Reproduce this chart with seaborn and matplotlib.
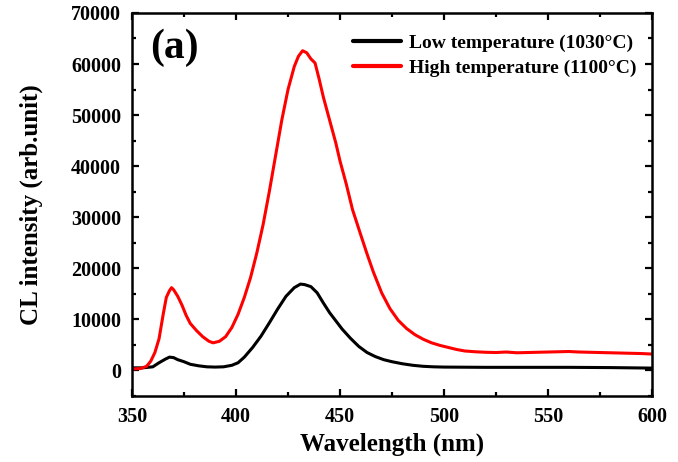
import matplotlib
matplotlib.use("Agg")
import matplotlib.pyplot as plt
import seaborn as sns
import pandas as pd
from matplotlib.ticker import MultipleLocator

# Cathodoluminescence spectra (wavelength in nm, intensity in arb. units)
wl_low = [350, 355, 360, 363, 366, 368, 370, 372, 375, 378, 382, 386, 390, 394,
          398, 401, 404, 408, 412, 416, 420, 424, 428, 431, 433, 436, 439, 442,
          445, 448, 451, 455, 459, 463, 467, 471, 475, 480, 485, 490, 495, 500,
          520, 540, 560, 580, 600]
int_low = [500, 500, 700, 1500, 2200, 2600, 2500, 2100, 1700, 1200, 900, 700, 650, 700,
           1000, 1500, 2600, 4500, 6700, 9300, 12000, 14500, 16200, 16900, 16800, 16400, 15200, 13200,
           11300, 9700, 8100, 6300, 4700, 3500, 2700, 2100, 1700, 1300, 1000, 800, 700, 650,
           600, 600, 600, 550, 450]

wl_high = [350, 354, 357, 359, 361, 363, 365, 366.5, 368, 369, 370, 372, 374, 376,
           378, 381, 384, 387, 389, 392, 395, 398, 401, 404, 407, 410, 413, 416,
           419, 422, 425, 428, 430, 432, 434, 436, 438, 440, 442, 444, 446, 448,
           450, 453, 456, 460, 463, 466, 470, 474, 478, 482, 486, 490, 494, 498,
           502, 506, 510, 515, 520, 525, 530, 535, 540, 545, 550, 555, 560, 565,
           570, 575, 580, 585, 590, 595, 600]
int_high = [300, 350, 800, 1800, 3500, 6200, 11000, 14300, 15600, 16200, 15800, 14500, 12800, 10800,
            9200, 7800, 6600, 5700, 5400, 5700, 6600, 8400, 11000, 14300, 18200, 23000, 28500, 35000,
            42000, 49000, 55000, 59500, 61500, 62600, 62200, 61000, 60200, 57000, 53500, 50500, 47500, 44500,
            41000, 36500, 31500, 26500, 22800, 19300, 15200, 12100, 9800, 8200, 7000, 6100, 5400, 4900,
            4500, 4100, 3800, 3650, 3550, 3500, 3600, 3450, 3500, 3550, 3600, 3650, 3700, 3600,
            3550, 3500, 3450, 3400, 3350, 3300, 3200]

label_low = "Low temperature (1030°C)"
label_high = "High temperature (1100°C)"

df = pd.concat([
    pd.DataFrame({"Wavelength": wl_low, "Intensity": int_low, "Sample": label_low}),
    pd.DataFrame({"Wavelength": wl_high, "Intensity": int_high, "Sample": label_high}),
])

sns.set_style("ticks")
plt.rcParams["font.family"] = ["Liberation Serif", "DejaVu Serif"]
plt.rcParams["font.weight"] = "bold"
plt.rcParams["text.color"] = "black"
plt.rcParams["axes.labelcolor"] = "black"
plt.rcParams["xtick.color"] = "black"
plt.rcParams["ytick.color"] = "black"
plt.rcParams["axes.edgecolor"] = "black"

fig = plt.figure(figsize=(6.78, 4.62), dpi=100)
ax = fig.add_axes([0.1947, 0.143, 0.767, 0.829])

sns.lineplot(data=df, x="Wavelength", y="Intensity", hue="Sample",
             palette={label_low: "black", label_high: "#ff0000"},
             linewidth=2.2, ax=ax, sort=True, estimator=None)

ax.set_xlim(350, 600)
ax.set_ylim(-5000, 70000)
ax.xaxis.set_major_locator(MultipleLocator(50))
ax.xaxis.set_minor_locator(MultipleLocator(25))
ax.yaxis.set_major_locator(MultipleLocator(10000))
ax.yaxis.set_minor_locator(MultipleLocator(5000))
ax.tick_params(which="both", direction="in", top=True, right=True, width=1.6,
               colors="black")
ax.tick_params(which="major", length=5, labelsize=14.5, pad=8)
ax.tick_params(which="minor", length=3)
for lab in ax.get_xticklabels() + ax.get_yticklabels():
    lab.set_fontweight("bold")
for sp in ax.spines.values():
    sp.set_linewidth(1.8)
    sp.set_color("black")

ax.set_xlabel("Wavelength (nm)", fontsize=18, fontweight="bold", labelpad=4)
ax.set_ylabel("CL intensity (arb.unit)", fontsize=18, fontweight="bold", labelpad=20)

ax.text(0.034, 0.96, "(a)", transform=ax.transAxes, fontsize=30,
        fontweight="bold", va="top", ha="left")

leg = ax.legend(loc="upper right", frameon=False, fontsize=14,
                handlelength=2.5, handletextpad=0.4, borderaxespad=0.2,
                labelspacing=0.4, bbox_to_anchor=(0.993, 0.975))
for t in leg.get_texts():
    t.set_fontweight("bold")
    t.set_color("black")
for h in leg.get_lines():
    h.set_linewidth(3)

fig.savefig("out.png", dpi=100)
